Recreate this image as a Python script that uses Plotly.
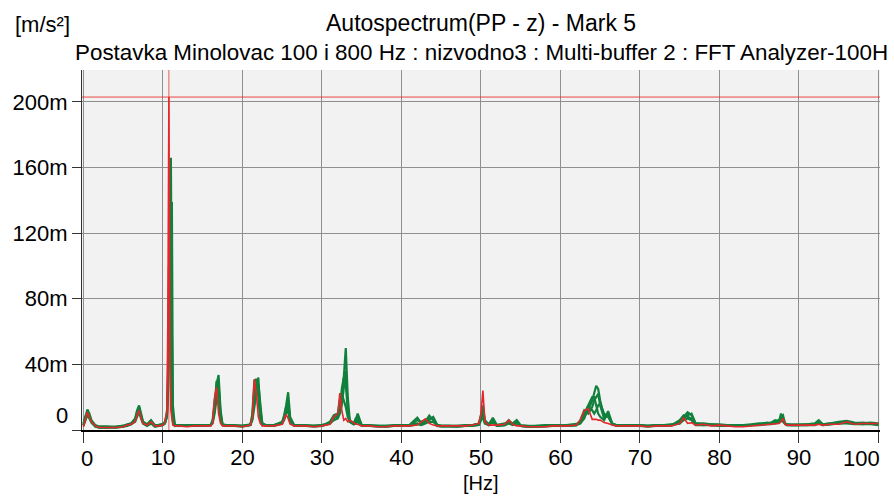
import plotly.graph_objects as go

# ---- data (values in milli m/s^2) ----
freq = [0, 0.25, 0.5, 0.75, 1.0, 1.5, 2,
        3, 4, 5, 5.5, 6, 6.5, 6.75, 7, 7.25, 7.5, 8, 8.5, 9, 9.5, 10,
        10.25, 10.5, 10.625, 10.75, 10.875, 11, 11.125, 11.25, 11.5,
        12, 13, 14, 15, 16, 16.25, 16.5, 16.75, 17, 17.25, 17.5,
        18, 19, 20, 21, 21.25, 21.5, 21.75, 22, 22.25, 22.5,
        23, 24, 25, 25.25, 25.5, 25.75, 26, 26.5,
        27, 28, 29, 30, 31, 31.5,
        32, 32.25, 32.5, 32.75, 33, 33.25, 33.5, 34, 34.25, 34.5, 35,
        36, 37, 38, 39, 40, 41,
        42, 42.5, 43, 43.5, 44, 44.5, 45,
        46, 47, 48, 49,
        49.75, 50, 50.25, 50.5, 51, 51.5, 52,
        53, 53.5, 54, 54.5, 55,
        56, 57, 58, 59, 60, 61, 62,
        62.5, 63, 63.5, 64, 64.25, 64.5, 64.75, 65, 65.5, 66, 66.5, 67,
        68, 69, 70, 71, 72, 73, 74,
        75, 75.5, 76, 76.5, 77,
        78, 79, 80, 81, 82, 83, 84, 85, 86,
        86.5, 87, 87.5, 87.75, 88, 88.25, 88.5, 89,
        90, 91, 92, 92.5, 93,
        94, 95, 96, 97, 98, 99, 100]

red = [2, 6, 11, 8, 5, 2.5, 1.5,
       1.5, 1.5, 2, 3, 3.5, 5, 9, 12, 7, 4, 3, 5, 2.5, 2.5, 3,
       5, 12, 70, 203, 45, 12, 5, 3, 2.5,
       2.5, 2, 2.5, 2.5, 2.5, 4, 20, 26, 10, 4, 2.5,
       2.5, 2.5, 2, 3, 8, 31, 22, 8, 4, 2.5,
       2.5, 2.5, 3.5, 6, 9.5, 7, 3.5, 2.5,
       2.5, 2.5, 2, 2.5, 3.5, 8,
       10, 22.5, 12, 6, 7, 5, 6, 4, 3.5, 3.5, 2.5,
       2.5, 2, 2, 2.5, 2.5, 2.5,
       3, 5, 6.8, 4, 3, 2.5, 2.5,
       2.5, 2.5, 2.5, 3,
       4, 10, 24, 5, 3, 3, 3,
       3.5, 6, 3.5, 2.5, 2.5,
       2, 2, 2, 2.5, 2.5, 2.5, 3,
       6, 11.8, 13, 6.5, 6.5, 6.5, 6, 6, 4.5, 4, 3, 2.5,
       2.5, 2.5, 2.5, 2, 2.5, 2.5, 2.5,
       4, 7.4, 4, 4.5, 3,
       3.5, 2.5, 3, 2.5, 2, 2, 2.5, 3, 3.5,
       3.5, 4, 4, 5, 7, 3.5, 3, 3,
       3, 3, 3, 3.5, 3,
       3.5, 3.5, 5, 3.5, 4, 4, 4]

green1 = [4, 9, 12.5, 10, 6, 3, 2,
          2, 2, 2.5, 3.5, 4, 7, 12, 15, 10, 5, 3.5, 6, 3, 3, 3.5,
          5, 10, 25, 80, 120, 166, 60, 10, 3,
          3, 3, 3, 3, 3, 5, 12, 28, 33.5, 12, 3.5,
          3, 3, 2.5, 3.5, 8, 25, 28, 32, 12, 4,
          3, 3, 5, 9, 15, 23, 8, 3,
          3, 3, 2.5, 3, 4, 7,
          9, 14, 20, 32, 50, 20, 6, 4, 6, 10, 3,
          3, 2.5, 2.5, 3, 3, 3,
          7.5, 4, 5, 8.8, 6, 3, 2.5,
          2.5, 2.5, 3, 3,
          4, 8, 15, 6, 3.5, 7.5, 3,
          4, 5, 4, 6, 3,
          2.5, 2.5, 3, 3, 2.5, 3, 3.5,
          4, 8, 12, 18, 22, 27, 25, 18, 8, 10, 4, 3,
          3, 3, 3, 2.5, 3, 3, 3,
          5, 8, 10.8, 9, 4,
          4, 3.5, 3.5, 3, 3, 3, 3.5, 4, 4,
          4.5, 6, 5, 10, 7, 4, 3.5, 3.5,
          3.5, 3.5, 4, 6, 3.5,
          4, 5, 5.5, 4.5, 4, 4.5, 4]

green2 = [3, 8, 11, 9, 5.5, 2.5, 1.5,
          1.5, 2, 2.5, 3, 4, 6, 11, 14, 9, 4.5, 3, 5.5, 2.5, 2.5, 3,
          4, 8, 20, 60, 110, 100, 139, 15, 3,
          2.5, 2.5, 3, 3, 3, 5, 14, 30, 26, 8, 3,
          2.5, 2.5, 2.5, 3, 10, 30, 31, 20, 6, 3,
          3, 3, 4.5, 8, 14, 18, 6, 3,
          2.5, 2.5, 2.5, 3, 4, 8,
          8, 12, 25, 32, 28, 12, 5, 4, 7, 8, 3,
          2.5, 2.5, 2, 2.5, 3, 2.5,
          6, 5, 6, 7, 7.5, 3, 2.5,
          2.5, 2.5, 2.5, 3,
          4, 9, 12, 5, 3, 6, 3,
          3.5, 6, 3.5, 4.5, 2.5,
          2, 2, 2.5, 3, 3, 2.5, 3,
          5, 10, 15, 20, 20, 15, 10, 8, 6, 11.5, 4, 3,
          2.5, 3, 2.5, 2.5, 3, 2.5, 3,
          6, 9, 8, 7, 3.5,
          3.5, 3, 3, 3, 2.5, 3, 3, 3.5, 4.5,
          4, 5.5, 6, 8, 9, 4, 3.5, 3,
          3, 3.5, 3.5, 5, 3.5,
          4, 4.5, 5, 4, 4.5, 4, 3.5]

green3 = [3, 7, 10, 8, 5, 2.5, 2,
          2, 1.5, 2, 3, 3.5, 5.5, 9, 12, 8, 4, 3, 4.5, 2.5, 3, 3.5,
          4, 9, 30, 100, 90, 40, 12, 5, 2.5,
          3, 2.5, 2.5, 3, 3, 6, 18, 24, 20, 6, 3,
          3, 2.5, 2.5, 3, 7, 20, 26, 24, 10, 3.5,
          2.5, 3, 4, 7, 12, 15, 5, 3,
          3, 2.5, 2.5, 2.5, 5, 9,
          10, 18, 22, 18, 14, 8, 5, 3.5, 5, 6, 3,
          2.5, 2.5, 2.5, 2.5, 2.5, 3,
          4, 3.5, 4.5, 6, 8, 3, 2.5,
          2.5, 2, 2.5, 3,
          3.5, 7, 10, 4, 3, 5, 2.5,
          3, 4.5, 3.5, 5, 2.5,
          2, 2.5, 2.5, 2.5, 2.5, 3, 3,
          6, 12, 10, 14, 18, 20, 22, 15, 7, 9, 3.5, 3,
          3, 2.5, 3, 2.5, 2.5, 3, 3.5,
          4, 7, 9, 10, 4,
          3, 3.5, 3, 2.5, 2.5, 3, 3, 3.5, 4,
          4, 4.5, 5, 7, 6, 3.5, 3, 3,
          3, 3, 3.5, 4.5, 3,
          3.5, 4, 4.5, 4, 3.5, 4, 3.5]

green4 = [2.5, 6, 9, 7, 4.5, 2, 1.5,
          1.5, 1.5, 2, 2.5, 3.5, 5, 8, 11, 7, 4, 2.5, 4, 2, 2.5, 3,
          4, 8, 22, 70, 60, 80, 25, 6, 3,
          2.5, 2.5, 2.5, 2.5, 3, 4, 10, 20, 28, 10, 3,
          2.5, 2.5, 2, 3, 6, 15, 22, 28, 14, 4,
          2.5, 2.5, 4, 6, 10, 12, 5, 2.5,
          2.5, 2.5, 2, 2.5, 4, 6,
          7, 10, 15, 24, 36, 14, 5, 3.5, 4, 5, 2.5,
          2.5, 2, 2, 2.5, 2.5, 2.5,
          3.5, 3, 4, 5, 5, 2.5, 2,
          2, 2, 2.5, 2.5,
          3, 6, 8, 4, 3, 4.5, 2.5,
          3, 4, 3, 4, 2.5,
          2, 2, 2, 2.5, 2.5, 2.5, 3,
          4, 7, 14, 12, 10, 12, 15, 16, 10, 8, 4, 2.5,
          2.5, 2.5, 2.5, 2, 2.5, 2.5, 3,
          4, 6, 7, 6, 3,
          3, 3, 2.5, 2.5, 2.5, 2.5, 3, 3, 3.5,
          3.5, 4, 4.5, 6, 5, 3.5, 3, 3,
          3, 3, 3, 4, 3,
          3.5, 4, 4, 3.5, 3.5, 3.5, 3]

for s in (red, green1, green2, green3, green4):
    assert len(s) == len(freq), (len(s), len(freq))

x_ticks = [0, 10, 20, 30, 40, 50, 60, 70, 80, 90, 100]
y_ticks = [0, 40, 80, 120, 160, 200]
y_labels = ["0", "40m", "80m", "120m", "160m", "200m"]

cursor_freq = 10.75
cursor_level = 203

title_text = "Autospectrum(PP - z) - Mark 5"
subtitle_text = "Postavka Minolovac 100 i 800 Hz : nizvodno3 : Multi-buffer 2 : FFT Analyzer-100H"
unit_text = "[m/s²]"
xunit_text = "[Hz]"

FONT = "Liberation Sans, Arial, sans-serif"
GREEN = "#11803c"
RED = "#e5262b"

fig = go.Figure()
for g in (green4, green3, green2, green1):
    fig.add_trace(go.Scatter(x=freq, y=g, mode="lines",
                             line=dict(color=GREEN, width=2.2), hoverinfo="skip"))
fig.add_trace(go.Scatter(x=freq, y=red, mode="lines",
                         line=dict(color=RED, width=1.6), hoverinfo="skip"))

# cursor lines
fig.add_shape(type="line", xref="x", yref="paper", x0=cursor_freq, x1=cursor_freq,
              y0=0, y1=1, line=dict(color="rgba(235,40,40,0.75)", width=1))
fig.add_shape(type="line", xref="paper", yref="y", x0=0, x1=1,
              y0=cursor_level, y1=cursor_level, line=dict(color="rgba(235,40,40,0.85)", width=1))

x_ticktext = ["" if v in (0, 100) else str(v) for v in x_ticks]
y_ticktext = ["" if v == 0 else t for v, t in zip(y_ticks, y_labels)]

fig.update_layout(
    width=894, height=497,
    margin=dict(l=79, r=14, t=70, b=67),
    paper_bgcolor="white", plot_bgcolor="#f2f2f2",
    showlegend=False,
    font=dict(family=FONT, size=22, color="black"),
    xaxis=dict(range=[-0.18, 100.2], tickvals=x_ticks, ticktext=x_ticktext,
               showgrid=True, gridcolor="#8f8f8f", gridwidth=1.2,
               showline=True, linecolor="black", linewidth=1.5,
               ticks="outside", ticklen=11, tickcolor="#333", tickwidth=1.2,
               ticklabelstandoff=-4,
               zeroline=False, tickfont=dict(size=22)),
    yaxis=dict(range=[0, 219.5], tickvals=y_ticks, ticktext=y_ticktext,
               showgrid=True, gridcolor="#8f8f8f", gridwidth=1.2,
               showline=True, linecolor="#333", linewidth=1.2,
               ticks="outside", ticklen=9, tickcolor="#333", tickwidth=1.2,
               zeroline=False, tickfont=dict(size=22)),
)

ann_font = dict(family=FONT, size=22, color="black")
# edge tick labels (aligned inward, as in the original)
fig.add_annotation(x=0, xref="x", y=0, yref="paper", text=str(x_ticks[0]),
                   xanchor="left", yanchor="top", yshift=-14, xshift=-4,
                   showarrow=False, font=ann_font)
fig.add_annotation(x=x_ticks[-1], xref="x", y=0, yref="paper", text=str(x_ticks[-1]),
                   xanchor="right", yanchor="top", yshift=-14, xshift=4,
                   showarrow=False, font=ann_font)
fig.add_annotation(x=0, xref="paper", y=0, yref="y", text=y_labels[0],
                   xanchor="right", yanchor="middle", xshift=-12, yshift=15,
                   showarrow=False, font=ann_font)
# titles
fig.add_annotation(x=0.5, xref="paper", y=1, yref="paper", text=title_text,
                   xanchor="center", yanchor="middle", yshift=47,
                   showarrow=False, font=dict(family=FONT, size=23, color="black"))
fig.add_annotation(x=0.5, xref="paper", y=1, yref="paper", text=subtitle_text,
                   xanchor="center", yanchor="middle", yshift=18,
                   showarrow=False, font=dict(family=FONT, size=22.4, color="black"))
fig.add_annotation(x=0, xref="paper", y=1, yref="paper", text=unit_text,
                   xanchor="left", yanchor="middle", xshift=-69, yshift=46,
                   showarrow=False, font=dict(family=FONT, size=22, color="black"))
fig.add_annotation(x=0.5, xref="paper", y=0, yref="paper", text=xunit_text,
                   xanchor="center", yanchor="middle", yshift=-53,
                   showarrow=False, font=dict(family=FONT, size=20, color="black"))

fig.write_html("out.html")
